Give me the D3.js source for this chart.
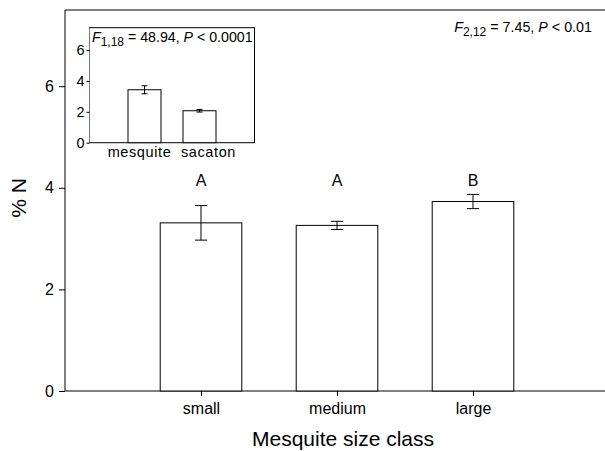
<!DOCTYPE html>
<html><head><meta charset="utf-8">
<script src="https://cdn.jsdelivr.net/npm/d3@7"></script>
<style>
body{margin:0;background:#fff;}
text{font-family:"Liberation Sans",Arial,Helvetica,sans-serif;fill:#000;}
</style></head>
<body><svg id="c" width="605" height="451"></svg>
<script>
const categories = ["small","medium","large"];
const means = [3.31, 3.26, 3.73];
const se = [0.34, 0.08, 0.14];
const letters = ["A","A","B"];
const yTicks = [0,2,4,6];

const insetCategories = ["mesquite","sacaton"];
const insetMeans = [3.43, 2.07];
const insetSe = [0.26, 0.085];
const insetTicks = [0,2,4,6];

const svg = d3.select("#c");

// main chart
const x = d3.scaleLinear().domain([0,4]).range([65,609]);
const y = d3.scaleLinear().domain([0,7.5]).range([391,10]);
const bw = 81.6;
const g = svg.append("g");

g.append("line").attr("x1",65).attr("x2",605).attr("y1",y(7.5)).attr("y2",y(7.5)).attr("stroke","#000");

const yAx = g.append("g").attr("transform","translate(65,0)")
  .call(d3.axisLeft(y).tickValues(yTicks).tickSize(6).tickPadding(5).tickSizeOuter(0));
yAx.select(".domain").attr("d","M0,"+y(7.5)+"V"+y(0));
yAx.selectAll("text").style("font-size","16px");

const xAx = g.append("g").attr("transform","translate(0,391)")
  .call(d3.axisBottom(x).tickValues([1,2,3]).tickFormat((d,i)=>categories[i]).tickSize(5).tickPadding(7).tickSizeOuter(0));
xAx.select(".domain").attr("d","M65,0H605");
xAx.selectAll("text").style("font-size","16px");

categories.forEach((c,i)=>{
  const cx = x(i+1);
  g.append("rect").attr("x",cx-bw/2).attr("y",y(means[i])).attr("width",bw).attr("height",y(0)-y(means[i]))
    .attr("fill","#fff").attr("stroke","#000").attr("stroke-width",1);
  const t=y(means[i]+se[i]), b=y(means[i]-se[i]);
  g.append("path").attr("d",`M${cx},${t}V${b}M${cx-6},${t}H${cx+6}M${cx-6},${b}H${cx+6}`).attr("stroke","#000").attr("fill","none");
  g.append("text").attr("x",cx).attr("y",186).attr("text-anchor","middle").style("font-size","16px").text(letters[i]);
});

g.append("text").attr("x",343).attr("y",446).attr("text-anchor","middle").style("font-size","21px").text("Mesquite size class");
g.append("text").attr("transform","translate(26,198) rotate(-90)").attr("text-anchor","middle").style("font-size","21px").text("% N");

const ft = g.append("text").attr("x",592).attr("y",32).attr("text-anchor","end").style("font-size","14.3px");
ft.append("tspan").style("font-style","italic").text("F");
ft.append("tspan").attr("dy",4).style("font-size","12px").text("2,12");
ft.append("tspan").attr("dy",-4).text(" = 7.45, ");
ft.append("tspan").style("font-style","italic").text("P");
ft.append("tspan").text(" < 0.01");

// inset
const ix = d3.scaleLinear().domain([0,3]).range([89.5,254.5]);
const iy = d3.scaleLinear().domain([0,7.45]).range([142.7,27.7]);
const ibw = 33;
const labelShift = [-5, 9];
const ig = svg.append("g");
ig.append("rect").attr("x",89.5).attr("y",27.7).attr("width",165).attr("height",115).attr("fill","#fff").attr("stroke","#000");
ig.append("line").attr("x1",89.5).attr("x2",89.5).attr("y1",27.7).attr("y2",142.7).attr("stroke","#777");
const iyAx = ig.append("g").attr("transform","translate(89.5,0)")
  .call(d3.axisLeft(iy).tickValues(insetTicks).tickSize(3).tickPadding(2).tickSizeOuter(0));
iyAx.select(".domain").remove();
iyAx.selectAll("text").style("font-size","14.5px");

insetCategories.forEach((c,i)=>{
  const cx = ix(i+1);
  ig.append("rect").attr("x",cx-ibw/2).attr("y",iy(insetMeans[i])).attr("width",ibw).attr("height",iy(0)-iy(insetMeans[i]))
    .attr("fill","#fff").attr("stroke","#000");
  const t=iy(insetMeans[i]+insetSe[i]), b=iy(insetMeans[i]-insetSe[i]);
  ig.append("path").attr("d",`M${cx},${t}V${b}M${cx-3},${t}H${cx+3}M${cx-3},${b}H${cx+3}`).attr("stroke","#000").attr("fill","none");
  ig.append("text").attr("x",cx+labelShift[i]).attr("y",157).attr("text-anchor","middle")
    .style("font-size","14.5px").style("letter-spacing","0.6px").text(c);
});

const it = ig.append("text").attr("x",92).attr("y",42).style("font-size","14.2px");
it.append("tspan").style("font-style","italic").text("F");
it.append("tspan").attr("dy",4).style("font-size","12px").text("1,18");
it.append("tspan").attr("dy",-4).text(" = 48.94, ");
it.append("tspan").style("font-style","italic").text("P");
it.append("tspan").text(" < 0.0001");
</script></body></html>
